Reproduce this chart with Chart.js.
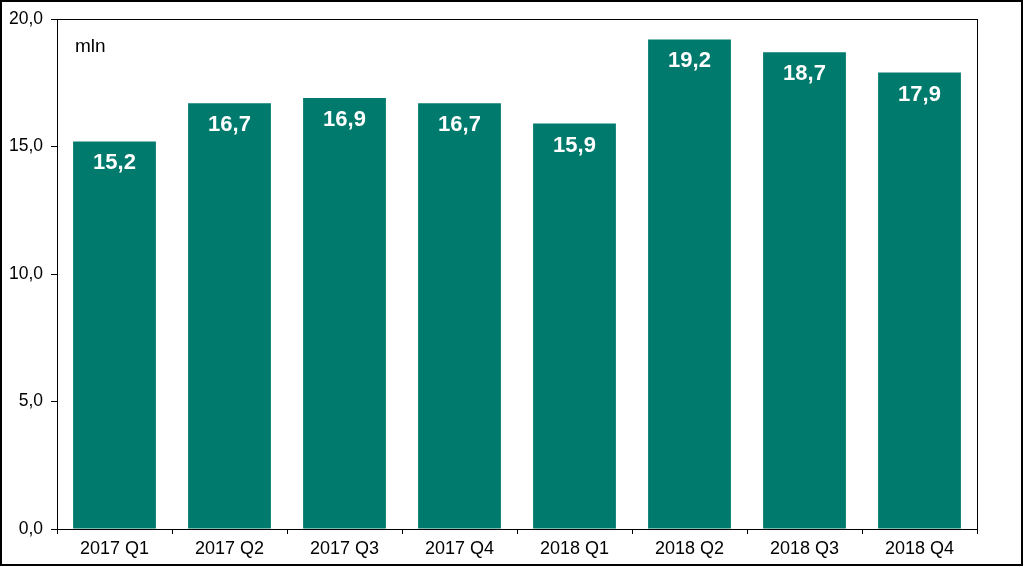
<!DOCTYPE html>
<html>
<head>
<meta charset="utf-8">
<script src="https://cdn.jsdelivr.net/npm/chart.js@4"></script>
<style>
html,body{margin:0;padding:0;background:#fff;}
#wrap{width:1024px;height:567px;position:relative;}
</style>
</head>
<body>
<div id="wrap"><canvas id="c" width="1024" height="567"></canvas></div>
<script>
const categories = ["2017 Q1","2017 Q2","2017 Q3","2017 Q4","2018 Q1","2018 Q2","2018 Q3","2018 Q4"];
const values = [15.2, 16.7, 16.9, 16.7, 15.9, 19.2, 18.7, 17.9];
const unitLabel = "mln";
const barColor = "#007A6C";
const FONT = "'Liberation Sans', Arial, sans-serif";
const fmt = v => v.toFixed(1).replace('.', ',');

const framePlugin = {
  id: 'frame',
  afterDraw(chart) {
    const ctx = chart.ctx, a = chart.chartArea;
    ctx.save();
    ctx.strokeStyle = '#000';
    ctx.lineWidth = 1;
    ctx.strokeRect(Math.round(a.left) + 0.5, Math.round(a.top) + 0.5, Math.round(a.right - a.left), Math.round(a.bottom - a.top));
    ctx.lineWidth = 2;
    ctx.strokeRect(1, 1, 1021, 564);
    // unit label
    ctx.fillStyle = '#000';
    ctx.font = "19px " + FONT;
    ctx.textAlign = 'left';
    ctx.textBaseline = 'middle';
    ctx.fillText(unitLabel, a.left + 18, 47);
    // value labels
    const meta = chart.getDatasetMeta(0);
    ctx.fillStyle = '#fff';
    ctx.font = "bold 22px " + FONT;
    ctx.textAlign = 'center';
    meta.data.forEach((bar, i) => {
      ctx.fillText(fmt(values[i]), bar.x, bar.y + 22);
    });
    ctx.restore();
  }
};

new Chart(document.getElementById('c'), {
  type: 'bar',
  data: {
    labels: categories,
    datasets: [{
      data: values,
      backgroundColor: barColor,
      borderWidth: 0,
      categoryPercentage: 0.72,
      barPercentage: 1.0
    }]
  },
  options: {
    responsive: false,
    animation: false,
    events: [],
    layout: { padding: { left: 0, right: 47, top: 19, bottom: 0 } },
    plugins: { legend: { display: false }, tooltip: { enabled: false }, title: { display: false } },
    scales: {
      x: {
        grid: { display: true, drawOnChartArea: false, drawTicks: true, tickLength: 5, color: '#000', offset: true },
        border: { display: true, color: '#000', width: 1 },
        ticks: { color: '#000', font: { family: FONT, size: 18 }, padding: 4, maxRotation: 0, autoSkip: false },
        afterFit(scale) { scale.height = 38; }
      },
      y: {
        min: 0, max: 20,
        grid: { display: true, drawOnChartArea: false, drawTicks: true, tickLength: 6, color: '#000' },
        border: { display: true, color: '#000', width: 1 },
        ticks: { stepSize: 5, color: '#000', font: { family: FONT, size: 17.5 }, padding: 8, callback: v => fmt(v) },
        afterFit(scale) { scale.width = 57; }
      }
    }
  },
  plugins: [framePlugin]
});
</script>
</body>
</html>
